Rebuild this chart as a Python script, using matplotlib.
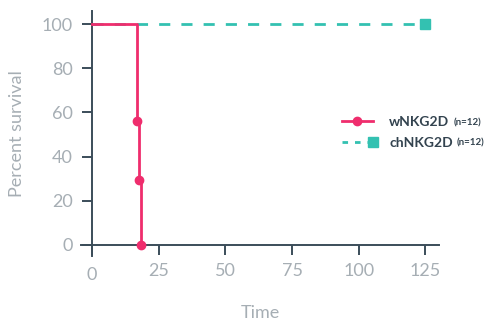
import matplotlib
matplotlib.use("Agg")
import matplotlib.pyplot as plt
from matplotlib.lines import Line2D
from matplotlib.legend_handler import HandlerLine2D
from matplotlib.transforms import ScaledTranslation

# survival curves (time, percent)
w_time = [0, 16.7, 17.6, 18.5]
w_surv = [100, 56.2, 29.2, 0]
ch_time = [0, 125]
ch_surv = [100, 100]

xticks = [0, 25, 50, 75, 100, 125]
yticks = [0, 20, 40, 60, 80, 100]
labels = ["wNKG2D", "chNKG2D"]
counts = ["(n=12)", "(n=12)"]

RED = "#ef2d6d"
TEAL = "#33c1b1"
AXIS = "#3b4d59"
GREY = "#a6aeb4"
DARK = "#33434f"

plt.rcParams["font.family"] = ["Lato", "DejaVu Sans"]


class EndMarker(HandlerLine2D):
    def create_artists(self, *args, **kwargs):
        arts = super().create_artists(*args, **kwargs)
        for a in arts:
            a.set_markevery([-1])
        return arts


fig = plt.figure(figsize=(4.93, 3.21), dpi=100)
ax = fig.add_axes([0.165, 0.2025, 0.725, 0.764])

ax.plot(ch_time, ch_surv, color=TEAL, lw=2, ls=(0, (4, 4)), zorder=2)
ax.plot(ch_time[-1:], ch_surv[-1:], ls="none", marker="s", ms=7, color=TEAL, zorder=3)
ax.plot(w_time, w_surv, color=RED, lw=2, drawstyle="steps-post", zorder=4)
ax.plot(w_time[1:], w_surv[1:], ls="none", marker="o", ms=6, color=RED, zorder=5)

ax.set_xlim(-4, 130)
ax.set_ylim(-5, 106)
ax.spines["left"].set_position(("data", 0))
ax.spines["bottom"].set_position(("data", 0))
for s in ["top", "right"]:
    ax.spines[s].set_visible(False)
for s in ["left", "bottom"]:
    ax.spines[s].set_color(AXIS)
    ax.spines[s].set_linewidth(1.4)

ax.set_xticks(xticks)
ax.set_yticks(yticks)
ax.tick_params(axis="both", length=7, width=1.4, color=AXIS, labelcolor=GREY,
               labelsize=13, direction="out")
ax.tick_params(axis="y", pad=7)
ax.tick_params(axis="x", pad=6)

ax.set_ylabel("Percent survival", color=GREY, fontsize=13)
ax.set_xlabel("Time", color=GREY, fontsize=13, labelpad=15.5)
ax.yaxis.set_label_coords(-0.158, 0.5)

handles = [
    Line2D([], [], color=RED, lw=2, marker="o", ms=6),
    Line2D([], [], color=TEAL, lw=2, ls=(0, (2, 2.5)), marker="s", ms=6.5),
]
leg = fig.legend(handles, labels, loc="center left",
                 bbox_to_anchor=(342 / 493, 1 - 132.5 / 321),
                 frameon=False, numpoints=1, handlelength=2.2, handletextpad=1.2,
                 labelspacing=0.62, borderpad=0, borderaxespad=0,
                 prop={"size": 10, "weight": "bold"},
                 handler_map={handles[1]: EndMarker()})

fig.canvas.draw()
r = fig.canvas.get_renderer()
# the "0" on the time axis sits a little lower in the original
lab0 = ax.get_xticklabels()[0]
lab0.set_transform(lab0.get_transform() + ScaledTranslation(0, -4 / 100, fig.dpi_scale_trans))

for txt, n in zip(leg.get_texts(), counts):
    txt.set_color(DARK)
    bb = txt.get_window_extent(r)
    fig.text((bb.x1 + 4) / fig.bbox.width, (bb.y0 + 3) / fig.bbox.height, n,
             fontsize=7, fontweight="bold", color=DARK, va="baseline", ha="left")

fig.savefig("out.png", dpi=100)
